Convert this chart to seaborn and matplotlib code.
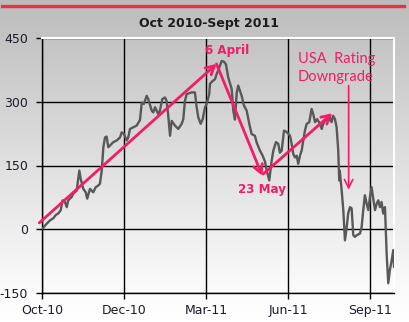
import numpy as np
import pandas as pd
import matplotlib
matplotlib.use("Agg")
import matplotlib.pyplot as plt
from matplotlib.lines import Line2D
import seaborn as sns

plt.rcParams["axes.unicode_minus"] = False

# ---- data (trading-day index, spread level) ----
day_index = [0.5, 3.4, 5.9, 8.3, 10.2, 11.9, 13.7, 15.1, 16.8, 18.1, 19.2, 21.7, 22.9, 25.4,
             27.3, 28.3, 30.2, 32.0, 33.1, 35.1, 37.5, 39.3, 41.2, 42.4, 43.7, 44.9, 46.1,
             47.3, 48.5, 52.2, 54.7, 57.1, 58.3, 60.0, 62.0, 63.1, 64.4, 69.3, 71.7, 73.0,
             74.6, 76.6, 77.8, 80.3, 81.4, 82.7, 85.1, 86.3, 88.0, 90.0, 91.2, 92.4, 93.7,
             94.9, 97.3, 99.7, 102.2, 103.4, 104.6, 105.9, 109.5, 111.9, 113.2, 114.4, 116.1,
             117.6, 119.3, 120.5, 122.4, 122.9, 124.9, 126.6, 127.8, 129.7, 131.5, 133.2,
             134.6, 136.3, 138.8, 140.0, 141.2, 142.5, 143.6, 146.1, 147.8, 149.8, 151.7,
             153.4, 155.8, 157.1, 159.5, 161.5, 163.2, 164.4, 166.3, 168.1, 169.3, 171.2,
             172.9, 174.1, 175.4, 177.1, 178.5, 180.2, 181.5, 182.7, 183.9, 185.1, 186.4,
             187.5, 188.8, 190.0, 191.2, 192.4, 193.7, 195.6, 197.3, 198.5, 199.8, 201.4,
             203.4, 204.7, 205.8, 207.8, 209.5, 210.7, 211.9, 213.1, 214.4, 215.6, 216.8,
             217.5, 217.9, 219.3, 220.5, 221.7, 223.0, 224.1, 225.4, 226.6, 227.8, 229.0,
             230.3, 232.7, 233.9, 235.1, 236.3, 237.6, 238.8, 240.0, 241.2, 242.4, 243.7,
             244.9, 246.1, 247.3, 248.5, 249.7, 251.0, 252.2, 253.4, 254.6, 255.9, 257.1, 257.6]
spread = [2, 13, 21, 26, 34, 37, 45, 68, 64, 52, 68, 76, 84, 91,
          138, 119, 95, 87, 72, 95, 87, 99, 103, 107, 138, 193, 216,
          218, 193, 205, 209, 216, 228, 224, 209, 216, 236, 244, 257, 298,
          295, 314, 306, 279, 275, 287, 271, 279, 306, 310, 302, 267, 220,
          255, 244, 236, 248, 259, 302, 318, 322, 322, 287, 263, 248,
          259, 287, 295, 318, 342, 349, 353, 365, 380, 396, 394,
          388, 357, 330, 279, 258, 321, 338, 314, 291, 279, 248,
          224, 220, 204, 185, 173, 159, 138, 115, 162, 185, 205,
          201, 180, 185, 232, 230, 225, 220, 201, 177, 169, 173,
          154, 173, 185, 209, 232, 248, 252, 283, 271, 252, 259,
          248, 236, 248, 259, 255, 263, 252, 267, 259, 240, 185,
          115, 138, 91, 45, -26, 5, 38, 52, 49, -14, -18,
          -14, -10, 5, 45, 80, 60, 45, 76, 99, 72, 45,
          60, 68, 52, 64, 37, 52, -57, -127, -96, -73, -49, -88]

tick_positions = [0, 60, 120, 180, 240]
tick_labels = ["Oct-10", "Dec-10", "Mar-11", "Jun-11", "Sep-11"]
y_ticks = [-150, 0, 150, 300, 450]
title = "Oct 2010-Sept 2011"

df = pd.DataFrame({"day": day_index, "spread": spread})

W, H = 409, 322
fig = plt.figure(figsize=(W / 100, H / 100), dpi=100)

# background gradient over the whole figure
bg = fig.add_axes([0, 0, 1, 1], zorder=-10)
grad = np.linspace(0, 1, 256).reshape(-1, 1)
cmap = matplotlib.colors.LinearSegmentedColormap.from_list(
    "g", [(0.0, "#bcbcbc"), (0.9, "#fbfbfb"), (1.0, "#ffffff")])
bg.imshow(grad, aspect="auto", cmap=cmap, extent=[0, 1, 0, 1], origin="upper")
bg.set_axis_off()

ax = fig.add_axes([42 / W, 1 - 293 / H, (394 - 42) / W, (293 - 38) / H])
ax.set_facecolor("none")

sns.lineplot(data=df, x="day", y="spread", ax=ax, color="#585858", linewidth=1.7, zorder=3)

ax.set_xlim(0, 257.6)
ax.set_ylim(-150, 450)
ax.set_xticks(tick_positions)
ax.set_xticklabels(tick_labels)
ax.set_yticks(y_ticks)
ax.set_xlabel("")
ax.set_ylabel("")
ax.grid(True, color="black", linewidth=1.0, zorder=1)
ax.set_axisbelow(True)
ax.tick_params(axis="both", direction="out", length=4, width=1, color="black",
               labelsize=9, labelcolor="#1b1b2b", pad=6)
ax.tick_params(axis="x", pad=4)
for s in ["left", "bottom"]:
    ax.spines[s].set_color("black")
    ax.spines[s].set_linewidth(1.0)
for s in ["top", "right"]:
    ax.spines[s].set_color("white")
    ax.spines[s].set_linewidth(1.5)

pink = "#f21c6a"
akw = dict(arrowstyle="->,head_length=0.6,head_width=0.33", color=pink, lw=2.0,
           shrinkA=0, shrinkB=0)
ax.annotate("", xy=(127.7, 389), xytext=(-2, 15), arrowprops=akw, annotation_clip=False, zorder=4)
ax.annotate("", xy=(161.2, 126), xytext=(127.7, 389), arrowprops=akw, zorder=4)
ax.annotate("", xy=(212.4, 273), xytext=(161.9, 130), arrowprops=akw, zorder=4)
ax.annotate("", xy=(224.4, 93), xytext=(224.4, 338),
            arrowprops=dict(arrowstyle="->,head_length=0.6,head_width=0.3", color=pink,
                            lw=1.2, shrinkA=0, shrinkB=0), zorder=4)

ax.text(135.4, 420, "6 April", color=pink, fontsize=8.6, fontweight="bold",
        ha="center", va="center", zorder=5)
ax.text(161, 94, "23 May", color=pink, fontsize=8.6, fontweight="bold",
        ha="center", va="center", zorder=5)
ax.text(187.3, 380, "USA  Rating\nDowngrade", color=pink, fontsize=10.5, family="Lato",
        ha="left", va="center", linespacing=1.35, zorder=5)

fig.text(209 / W, 1 - 24 / H, title, ha="center", va="center", fontsize=9,
         fontweight="bold", color="#1b1b1b")
fig.add_artist(Line2D([2 / W, 404 / W], [1 - 6 / H, 1 - 6 / H], color="#e8343f",
                      linewidth=2.4, transform=fig.transFigure))

fig.savefig("out.png", dpi=100)
